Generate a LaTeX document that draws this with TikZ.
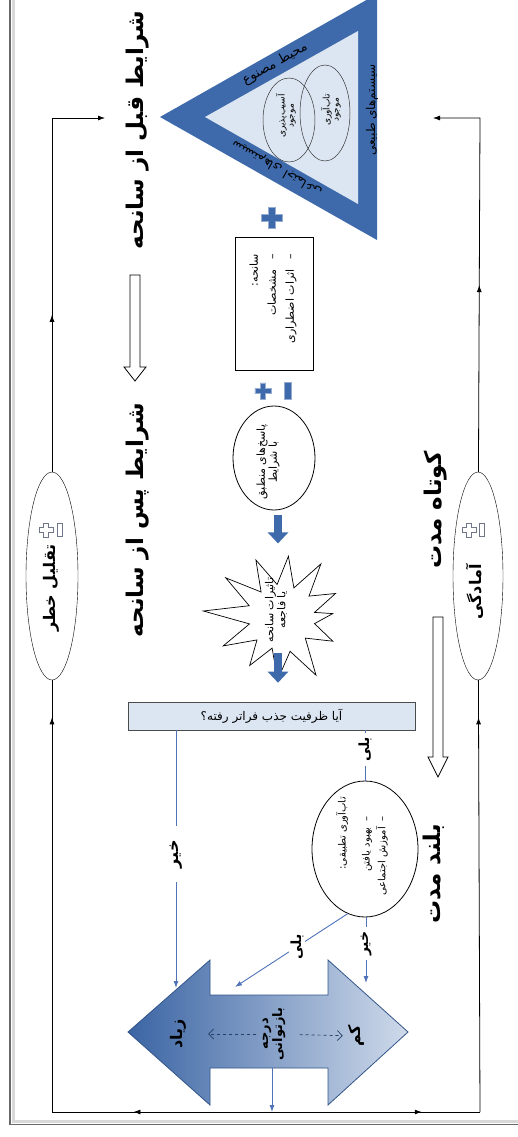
\documentclass[tikz,border=0pt]{standalone}
\usepackage{fontspec}
\newfontfamily\fa[Script=Arabic]{DejaVu Sans}
\TeXXeTstate=1
\usetikzlibrary{arrows.meta,decorations.markings,shapes.geometric}
\newcommand\R[1]{\beginR#1\endR}
\newcommand\fsz[1]{\fontsize{#1}{#1}\selectfont}

\definecolor{dblue}{RGB}{62,106,172}
\definecolor{lblue}{RGB}{220,230,242}
\definecolor{lnblue}{RGB}{79,114,184}
\definecolor{frgray}{RGB}{105,105,105}
\definecolor{icongray}{RGB}{110,118,135}

\tikzset{
  pics/pluscross/.style={code={
    \path[pic actions] (-2.5,-7) -- (2.5,-7) -- (2.5,-2.5) -- (7,-2.5) -- (7,2.5)
      -- (2.5,2.5) -- (2.5,7) -- (-2.5,7) -- (-2.5,2.5) -- (-7,2.5) -- (-7,-2.5)
      -- (-2.5,-2.5) -- cycle;}},
  pics/minusbar/.style={code={\path[pic actions] (-2.5,-7) rectangle (2.5,7);}}
}

\begin{document}
\begin{tikzpicture}[x=1pt,y=-1pt,
  loopline/.style={line width=0.8pt, black},
  midarrow/.style={postaction={decorate}, decoration={markings,
      mark=at position #1 with {\arrow{Latex[length=7pt,width=5pt]}}}},
  endarrow/.style={-{Latex[length=7pt,width=5pt]}},
  bline/.style={draw=lnblue, line width=0.9pt},
  barr/.style={bline, -{Latex[length=7pt,width=5pt]}},
  blockarr/.style={draw=dblue, line width=8pt, -{Triangle[length=11pt,width=20pt]}},
  heading/.style={font=\fa\bfseries\fsz{23}, rotate=90, inner sep=0pt},
  rt/.style={font=\fa\fsz{#1}, rotate=90, inner sep=0pt, align=center},
  lab/.style={font=\fa\bfseries\fsz{14}, rotate=90, fill=white, inner xsep=4pt, inner ysep=1pt},
  hollow/.style={draw=black, fill=white, line width=0.8pt},
  dasharr/.style={draw=dblue!60!black, dashed, line width=0.7pt, -{Straight Barb[length=5pt]}}
]
\useasboundingbox (0,0) rectangle (518,1137);

% page frame
\draw[gray!30, line width=3pt] (13,0) -- (13,1121.5) -- (518,1121.5);
\draw[frgray, line width=1.5pt] (10,0) -- (10,1124.5) -- (518,1124.5);

% feedback loop corners and tips
\coordinate (BL) at (52,1112);
\coordinate (BR) at (480,1112);
\coordinate (BM) at (272,1112);
\coordinate (TL) at (52,118);
\coordinate (TR) at (480,118);
\coordinate (preTip) at (105,118);
\coordinate (trTip) at (433,118);

% mitigation and preparedness ellipses
\node[draw, ellipse, fill=white, minimum width=52, minimum height=208, inner sep=0pt] (mit) at (52,576) {};
\node[draw, ellipse, fill=white, minimum width=50, minimum height=208, inner sep=0pt] (prep) at (478,576) {};
\pic[draw=icongray, fill=white, line width=0.8pt] at (46,530) {pluscross};
\pic[draw=icongray, fill=white, line width=0.8pt, yscale=0.95] at (60,530) {minusbar};
\pic[draw=icongray, fill=white, line width=0.8pt] at (469,530) {pluscross};
\pic[draw=icongray, fill=white, line width=0.8pt, yscale=0.95] at (482,530) {minusbar};
\node[rt=16, font=\fa\bfseries\fsz{16}] (mittxt) at (51,588) {\R{تقلیل خطر}};
\node[rt=16, font=\fa\bfseries\fsz{16}] (preptxt) at (475,592) {\R{آمادگی}};

% loop lines
\draw[loopline, midarrow=0.63] (BM) -- (BL);
\draw[loopline, midarrow=0.72] (BM) -- (BR);
\draw[loopline, midarrow=0.914] (BL) -- (mit);
\draw[loopline, midarrow=0.914] (BR) -- (prep);
\draw[loopline, midarrow=0.386, endarrow] (mit) -- (TL) -- (preTip);
\draw[loopline, midarrow=0.466, endarrow] (prep) -- (TR) -- (trTip);

% headings
\node[heading] (pre) at (138,130) {\R{شرایط قبل از سانحه}};
\node[heading] (post) at (138,520) {\R{شرایط پس از سانحه}};
\node[heading] (short) at (436,510) {\R{کوتاه مدت}};
\node[heading] (long) at (434,874) {\R{بلند مدت}};

% hollow arrows between headings
\draw[hollow] (130,275) -- (140,275) -- (140,367) -- (146,367) -- (135,381) -- (124,367) -- (130,367) -- cycle;
\draw[hollow] (433,617) -- (443,617) -- (443,757) -- (448,757) -- (438,777) -- (428,757) -- (433,757) -- cycle;

% antecedent conditions triangle
\fill[dblue] (160,117) -- (377,-6) -- (377,240) -- cycle;
\fill[lblue] (205,117) -- (358,31) -- (358,204) -- cycle;
\node[font=\fa\fsz{13}, rotate=29.5, inner sep=0pt] (built) at (275,64) {\R{محیط مصنوع}};
\node[font=\fa\fsz{12}, rotate=150.5, inner sep=0pt] (social) at (277,168) {\R{سیستم‌های اجتماعی}};
\node[rt=12] (natural) at (372,110) {\R{سیستم‌های طبیعی}};
\draw[gray!40!black, line width=0.5pt] (289,120) ellipse [x radius=26, y radius=42];
\draw[gray!40!black, line width=0.5pt] (325,113) ellipse [x radius=25, y radius=48];
\node[rt=9] (vuln) at (286,116) {\R{آسیب‌پذیری}\\\R{موجود}};
\node[rt=9] (resil) at (331,110) {\R{تاب‌آوری}\\\R{موجود}};

% event
\pic[draw=dblue!55, fill=dblue, line width=0.8pt, scale=1.5] at (272,218) {pluscross};
\node[draw, line width=0.8pt, minimum width=78, minimum height=133, inner sep=0pt] (event) at (274,303.5) {};
\node[rt=11, font=\fa\fsz{11}, align=right, anchor=east] (eventtxt) at (273,254)
  {\R{سانحه:}\\[7pt]\R{–\hspace{10pt}مشخصات}\\[7pt]\R{–\hspace{10pt}اثرات اضطراری}};
\pic[draw=dblue!55, fill=dblue, line width=0.8pt, scale=1.15] at (263,391) {pluscross};
\pic[draw=dblue!55, fill=dblue, line width=0.8pt, xscale=1.3, yscale=1.2] at (288,391) {minusbar};

% coping responses
\node[draw, ellipse, line width=0.8pt, minimum width=82, minimum height=104, inner sep=0pt] (resp) at (274,458) {};
\node[rt=11] (resptxt) at (268,462) {\R{پاسخ‌های منطبق}\\\R{با شرایط}};
\draw[blockarr] (resp.south) ++(4,5) -- ++(0,28);

% hazard impact
\draw[line width=0.7pt, fill=white] (332.8,613.6) -- (314.5,623.6) -- (332.8,641.2) -- (305.3,638.1)
  -- (316,675.2) -- (290.1,651.3) -- (277.6,679.8) -- (272.1,648.1) -- (249.7,665.5)
  -- (257.0,639.9) -- (223.2,645.9) -- (249.5,623.9) -- (203.3,611.0) -- (249.2,605.7)
  -- (225.7,577.8) -- (261.1,592.0) -- (255.9,560.0) -- (277.1,584.5) -- (288.4,556.2)
  -- (293.9,587.9) -- (320.9,563.9) -- (309.0,596.1) -- (335.5,593.5) -- (314.5,612.4) -- cycle;
\node[rt=11] (impact) at (276,610) {\R{تاثیرات سانحه}\\\R{یا فاجعه}};

% absorptive capacity bar
\node[draw=gray!60!black, fill=lblue, line width=0.6pt, minimum width=287, minimum height=28, inner sep=0pt,
  font=\fa\fsz{12}] (bar) at (271.5,716) {\R{آیا ظرفیت جذب فراتر رفته؟}};
\draw[blockarr] (bar.north) ++(6.5,-49) -- ++(0,30);

% adaptive resilience
\node[draw, ellipse, line width=0.8pt, minimum width=106, minimum height=136, inner sep=0pt] (adapt) at (365,849) {};
\node[rt=10, align=right, anchor=east] (adapttxt) at (362,797)
  {\R{تاب‌آوری تطبیقی:}\\[13pt]\R{\hspace{19pt}–\hspace{6pt}بهبود یافتن}\\[3pt]\R{\hspace{19pt}–\hspace{6pt}آموزش اجتماعی}};

% degree of recovery
\path[draw=dblue!80!black, line width=0.8pt, left color=dblue!95!black, right color=dblue!25]
  (128,1032) -- (210,960) -- (210,995) -- (328,995) -- (328,960) -- (408,1032)
  -- (328,1105) -- (328,1068) -- (210,1068) -- (210,1105) -- cycle;
\node[rt=16, font=\fa\bfseries\fsz{16}] (high) at (178,1034) {\R{زیاد}};
\node[rt=13, font=\fa\bfseries\fsz{13}] (deg) at (274,1034) {\R{درجه}\\\R{بازتوانی}};
\node[rt=16, font=\fa\bfseries\fsz{16}] (low) at (356,1036) {\R{کم}};
\draw[dasharr, shorten <=6pt, shorten >=22pt] (deg) -- (high);
\draw[dasharr, shorten <=14pt, shorten >=5pt] (deg) -- (low);

% decision branches
\coordinate (noTipA) at (176,988);
\coordinate (noTipB) at (366,983);
\coordinate (yesTip) at (235,987);
\coordinate (recTop) at (272,1068);
\draw[barr] (bar.south -| noTipA) -- (noTipA) node[lab, pos=0.48, inner xsep=14pt, font=\fa\bfseries\fsz{16}] {\R{خیر}};
\draw[bline] (bar.south -| adapt.south) -- (adapt) node[lab, pos=0.38] {\R{بلی}};
\draw[barr] (adapt.south -| noTipB) -- (noTipB) node[lab, pos=0.4] {\R{خیر}};
\draw[barr] (adapt.-105) -- (yesTip) node[lab, pos=0.45] {\R{بلی}};
\draw[barr] (recTop) -- (BM);
\end{tikzpicture}
\end{document}
